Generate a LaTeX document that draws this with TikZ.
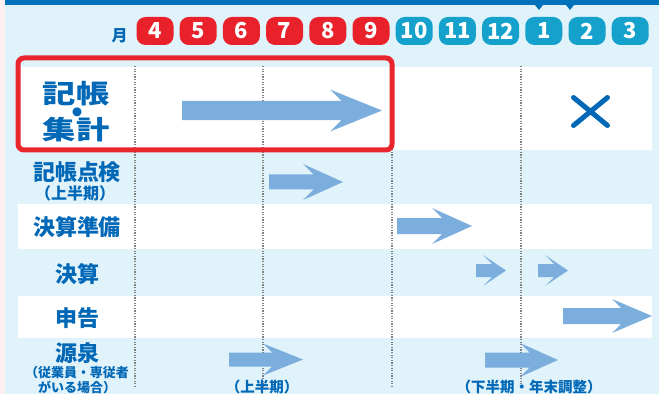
\documentclass[tikz,border=0pt]{standalone}
\usepackage{fontspec}
\setmainfont{Noto Sans CJK JP}
\definecolor{barblue}{HTML}{0072BC}
\definecolor{bandblue}{HTML}{E0F2FA}
\definecolor{pinkedge}{HTML}{FDEFF1}
\definecolor{pillred}{HTML}{E8212B}
\definecolor{pillblue}{HTML}{14A2CC}
\definecolor{arrowblue}{HTML}{7BAEDD}
\definecolor{labelblue}{HTML}{0068B6}
\definecolor{gridgray}{HTML}{808080}
\definecolor{borderred}{HTML}{E9262D}
% block arrow: start x, head x, tip x, centre y, half shaft, half head
\newcommand{\schedarrow}[6]{%
  \fill[barrow] (#1,#4-#5) -- ({#2+#6-#5},#4-#5) -- (#2,#4-#6) -- (#3,#4)
    -- (#2,#4+#6) -- ({#2+#6-#5},#4+#5) -- (#1,#4+#5) -- cycle;}

\begin{document}
\begin{tikzpicture}[x=1pt, y=-1pt,
  biglbl/.style={text=labelblue, inner sep=0pt, anchor=base, font=\bfseries\fontsize{26}{26}\selectfont},
  lbl/.style={text=labelblue, inner sep=0pt, font=\bfseries\fontsize{22}{22}\selectfont},
  sublbl/.style={text=labelblue, inner sep=0pt, font=\bfseries\fontsize{13}{13}\selectfont},
  period/.style={text=labelblue, inner sep=0pt, font=\bfseries\fontsize{14.5}{14.5}\selectfont},
  monthred/.style={fill=pillred, rounded corners=9pt, minimum width=37pt, minimum height=28pt,
    inner sep=0pt, text=white, font=\bfseries\fontsize{22}{22}\selectfont},
  monthblue/.style={monthred, fill=pillblue},
  vline/.style={draw=gridgray, line width=1.3pt, dash pattern=on 1.3pt off 1.3pt},
  barrow/.style={fill=arrowblue}]
  % Background and bands
  \fill[bandblue] (0,0) rectangle (659,394);
  \fill[pinkedge] (0,0) rectangle (5,394);
  \fill[barblue]  (5,0) rectangle (659,5);
  \fill[barblue]  (535,5) -- (543,5) -- (539,10) -- cycle;
  \fill[barblue]  (566,5) -- (574,5) -- (570,10) -- cycle;
  \fill[white] (18,67)  rectangle (652,150);
  \fill[white] (18,204) rectangle (652,249);
  \fill[white] (18,296) rectangle (652,338);
  % Quarter lines
  \foreach \x in {135,263,392,521}
    \draw[vline] (\x,66) -- (\x,386);
  % Months
  \node[text=labelblue, inner sep=0pt, font=\bfseries\fontsize{16}{16}\selectfont] (tsuki) at (119.5,35.5) {月};
  \foreach \m [count=\i from 0] in {4,5,6,7,8,9}
    \node[monthred] (m\m) at ({155+43.2*\i},31) {\m};
  \foreach \m [count=\i from 6] in {10,11,12,1,2,3}
    \node[monthblue] (m\m) at ({155+43.2*\i},31) {\m};
  % Row labels
  \node[biglbl] (kicho)  at (76,103.5) {\scalebox{1.28}[1]{記帳}};
  \node[biglbl, font=\bfseries\fontsize{32}{32}\selectfont] (naka) at (77,124.2) {・};
  \node[biglbl] (shukei) at (76,139.5) {\scalebox{1.28}[1]{集計}};
  \node[lbl] (tenken)    at (77,172) {記帳点検};
  \node[text=labelblue, inner sep=0pt, font=\bfseries\fontsize{16}{16}\selectfont] (tenkenki) at (75,193) {（上半期）};
  \node[lbl] (junbi)     at (77,227) {決算準備};
  \node[lbl] (kessan)    at (77,274) {決算};
  \node[lbl] (shinkoku)  at (77,318) {申告};
  \node[lbl] (gensen)    at (77,353) {源泉};
  \node[sublbl] (gensenA) at (77,373) {（従業員・専従者};
  \node[sublbl] (gensenB) at (77,387) {がいる場合）};
  % Arrows
  \schedarrow{182}{330}{382}{110.5}{9.7}{21}
  \schedarrow{269}{303}{343}{182}{7.5}{18}
  \schedarrow{397}{432}{472}{226}{8}{18}
  \schedarrow{476}{483}{506}{270.5}{6.5}{15.5}
  \schedarrow{538}{545}{568}{270.5}{6.5}{15.5}
  \schedarrow{563}{612}{652}{316}{8}{17}
  \schedarrow{229}{263}{303}{359.5}{7}{16}
  \schedarrow{485}{520}{558}{360}{7.5}{17}
  % Cross and periods
  \draw[labelblue, line width=5pt, line cap=round] (573.5,97.5) -- (607.5,125.5) (573.5,125.5) -- (607.5,97.5);
  \node[period] (kamiki) at (262,387) {（上半期）};
  \node[period] (shimoki) at (529,387) {（下半期・年末調整）};
  % Highlight frame
  \draw[borderred, line width=5pt, rounded corners=6pt] (18,58) rectangle (392,150);
\end{tikzpicture}
\end{document}
